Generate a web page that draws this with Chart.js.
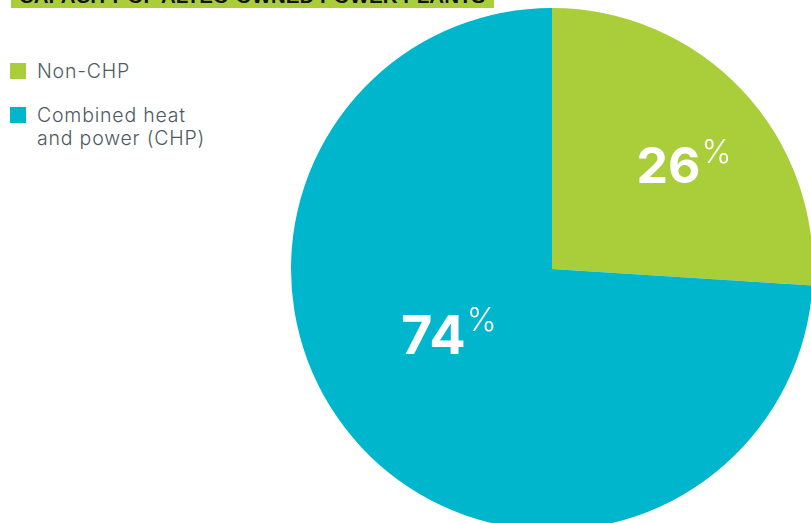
<!DOCTYPE html>
<html>
<head>
<meta charset="utf-8">
<script src="https://cdn.jsdelivr.net/npm/chart.js@4/dist/chart.umd.min.js"></script>
<style>
  html, body { margin: 0; padding: 0; background: #fff; overflow: hidden; }
  body { width: 811px; height: 523px; position: relative; }
  #title {
    position: absolute; left: 11px; top: -14px; width: 483px; height: 22px;
    background: #a9ce3a; color: #111;
    font: bold 20.5px "Liberation Sans", Arial, sans-serif;
    line-height: 20px; padding-left: 8px; box-sizing: border-box; white-space: nowrap; overflow: hidden;
  }
  #legend { position: absolute; left: 10px; top: 60px; font-family: Inter, sans-serif; font-weight: 300; }
  .item { position: relative; padding-left: 27px; font-size: 19.5px; line-height: 23px; color: #4e5a5f; letter-spacing: 0.8px; margin-bottom: 21px; }
  .sw { position: absolute; left: 0; top: 3px; width: 16px; height: 16px; }
  #wrap { position: absolute; left: 251.5px; top: -31px; width: 600px; height: 600px; }
</style>
</head>
<body>
<div id="title">CAPACITY OF ALTEO-OWNED POWER PLANTS</div>
<div id="legend"></div>
<div id="wrap"><canvas id="pie" width="600" height="600"></canvas></div>
<script>
/* capacity split */
const LABELS = ['Non-CHP', 'Combined heat\nand power (CHP)'];
const SHARES = [26, 74];
const COLORS = ['#a9ce3a', '#00b6cd'];

// label placement along each slice: fraction of radius, angle nudge (deg), digit size
const LABEL_RADIUS = [0.60, 0.518];
const LABEL_NUDGE  = [1.3, 14.45];
const LABEL_SIZE   = [50, 54];

/* ── Legend ─────────────────────────────────────────────────────────── */
document.getElementById('legend').innerHTML = LABELS.map((l, i) => `
  <div class="item"><span class="sw" style="background:${COLORS[i]}"></span>${l.replace('\n', '<br>')}</div>`).join('');

/* ── Percentage labels inside slices ────────────────────────────────── */
const pctLabels = {
  id: 'pctLabels',
  afterDatasetsDraw(chart) {
    const ctx = chart.ctx;
    chart.getDatasetMeta(0).data.forEach((arc, i) => {
      const p = arc.getProps(['x', 'y', 'startAngle', 'endAngle', 'outerRadius'], true);
      const mid = (p.startAngle + p.endAngle) / 2 + LABEL_NUDGE[i] * Math.PI / 180;
      const r = p.outerRadius * LABEL_RADIUS[i];
      const cx = p.x + Math.cos(mid) * r;
      const cy = p.y + Math.sin(mid) * r;
      const num = String(SHARES[i]);
      const size = LABEL_SIZE[i];
      const cap = size * 0.727;

      ctx.save();
      ctx.fillStyle = '#fff';
      ctx.textBaseline = 'alphabetic';
      ctx.textAlign = 'left';
      ctx.font = `bold ${size}px Inter, sans-serif`;
      const w = ctx.measureText(num).width;
      const base = cy + cap / 2;
      ctx.fillText(num, cx - w / 2, base);
      // small raised percent sign
      ctx.font = '300 32px Inter, sans-serif';
      ctx.fillText('%', cx + w / 2 + 1, base - cap + 17);
      ctx.restore();
    });
  }
};

new Chart(document.getElementById('pie'), {
  type: 'pie',
  data: {
    labels: LABELS,
    datasets: [{
      data: SHARES,
      backgroundColor: COLORS,
      borderWidth: 0,
    }]
  },
  options: {
    responsive: false,
    animation: false,
    layout: { padding: 39 },
    plugins: {
      legend: { display: false },
      tooltip: { enabled: false }
    }
  },
  plugins: [pctLabels]
});
</script>
</body>
</html>
